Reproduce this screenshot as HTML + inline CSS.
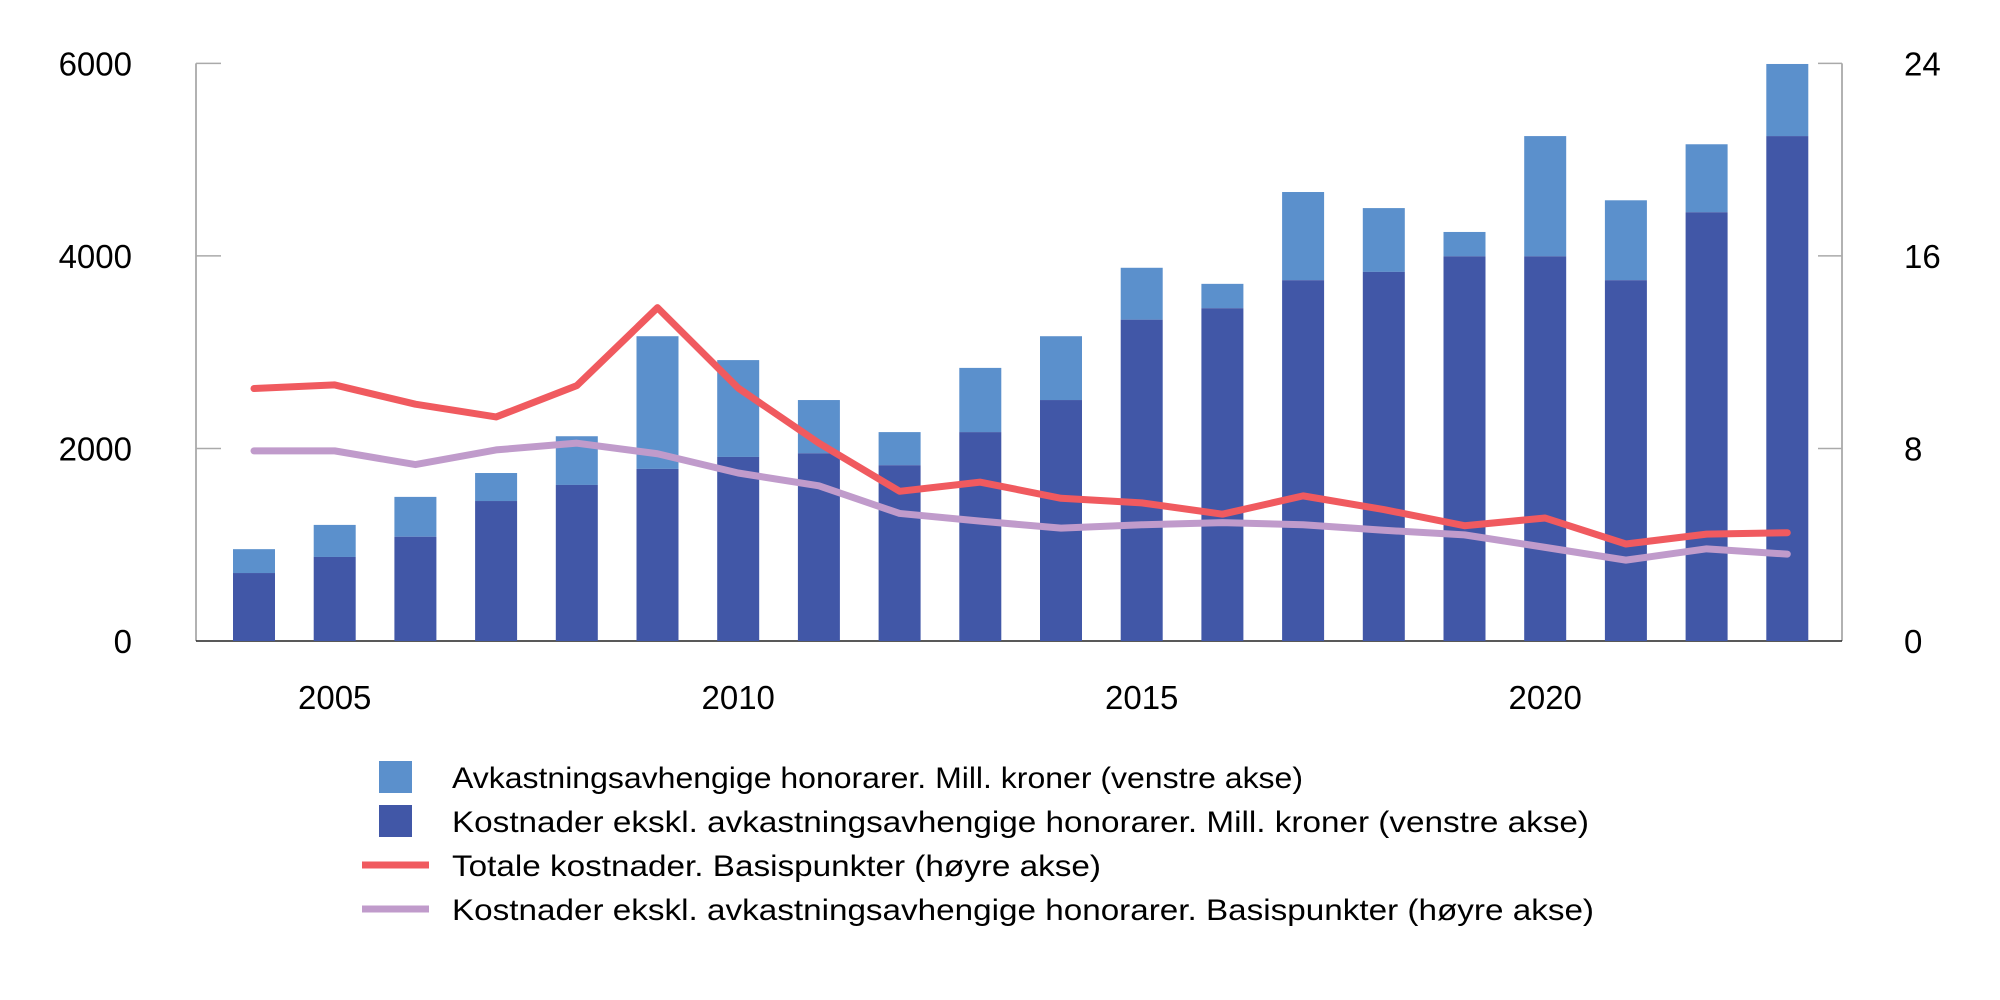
<!DOCTYPE html>
<html><head><meta charset="utf-8"><style>
html,body{margin:0;padding:0;background:#fff;}
svg{display:block;font-family:"Liberation Sans",Arial,sans-serif;}
</style></head><body>
<svg id="chart" width="2000" height="1000" viewBox="0 0 2000 1000">
<g id="axes"></g>
<g id="bars"></g>
<g id="lines"></g>
<g id="legend">
  <rect x="379" y="761" width="33" height="32" fill="#5b90cc"/>
  <text x="452" y="788" font-size="30" textLength="851" lengthAdjust="spacingAndGlyphs">Avkastningsavhengige honorarer. Mill. kroner (venstre akse)</text>
  <rect x="379" y="805" width="33" height="32" fill="#4157a7"/>
  <text x="452" y="832" font-size="30" textLength="1137" lengthAdjust="spacingAndGlyphs">Kostnader ekskl. avkastningsavhengige honorarer. Mill. kroner (venstre akse)</text>
  <line x1="362" y1="865" x2="429" y2="865" stroke="#f05a5f" stroke-width="7"/>
  <text x="452" y="876" font-size="30" textLength="649" lengthAdjust="spacingAndGlyphs">Totale kostnader. Basispunkter (høyre akse)</text>
  <line x1="362" y1="909" x2="429" y2="909" stroke="#c09bcb" stroke-width="7"/>
  <text x="452" y="920" font-size="30" textLength="1142" lengthAdjust="spacingAndGlyphs">Kostnader ekskl. avkastningsavhengige honorarer. Basispunkter (høyre akse)</text>
</g>
</svg>
<script>
const years = [2004,2005,2006,2007,2008,2009,2010,2011,2012,2013,2014,2015,2016,2017,2018,2019,2020,2021,2022,2023];
const costsExcl = [706,873,1083,1454,1621,1788,1912,1950,1826,2170,2503,3338,3457,3748,3834,3996,3996,3748,4454,5245];
const totalCosts = [954,1206,1497,1745,2127,3166,2918,2503,2170,2837,3166,3877,3710,4664,4497,4249,5245,4578,5160,5994];
const totalBp = [10.49,10.64,9.84,9.31,10.61,13.85,10.51,8.22,6.22,6.60,5.93,5.74,5.27,6.03,5.46,4.79,5.11,4.03,4.44,4.50];
const exclBp = [7.90,7.90,7.33,7.94,8.22,7.78,6.98,6.45,5.30,4.98,4.69,4.83,4.92,4.83,4.60,4.41,3.89,3.36,3.83,3.61];
const leftTicks = [0,2000,4000,6000];
const rightTicks = [0,8,16,24];
const yearLabels = [2005,2010,2015,2020];

const NS = "http://www.w3.org/2000/svg";
const X0 = 196, X1 = 1842, Y0 = 641, Y1 = 63.4;
const firstC = 254, stepC = 80.7, barW = 42;
const xC = y => firstC + (y - years[0]) * stepC;
const yL = v => Y0 - (v / 6000) * (Y0 - Y1);
const yR = v => Y0 - (v / 24) * (Y0 - Y1);
function mk(tag, attrs, parent){ const e=document.createElementNS(NS,tag); for(const k in attrs) e.setAttribute(k,attrs[k]); parent.appendChild(e); return e; }

const axes = document.getElementById('axes');
let e = mk('line',{x1:X0,y1:Y1,x2:X0,y2:Y0,stroke:'#888','stroke-width':1.3},axes);


e = mk('line',{x1:X1,y1:Y1,x2:X1,y2:Y0,stroke:'#888','stroke-width':1.3},axes);


leftTicks.forEach(t=>{
  const y = yL(t);
  if (t>0){ const l = mk('line',{x1:X0,y1:y,x2:X0+25,y2:y,stroke:'#aaa','stroke-width':1.5},axes);
    
     }
  const tx = mk('text',{x:132,y:y+12,'font-size':33,'text-anchor':'end'},axes);
  tx.textContent = t;
  
  
});
rightTicks.forEach(t=>{
  const y = yR(t);
  if (t>0){ const l = mk('line',{x1:X1-24,y1:y,x2:X1,y2:y,stroke:'#aaa','stroke-width':1.5},axes);
    
     }
  const tx = mk('text',{x:1904,y:y+12,'font-size':33},axes);
  tx.textContent = t;
  
  
});
yearLabels.forEach(yr=>{
  const tx = mk('text',{x:xC(yr),y:709,'font-size':33,'text-anchor':'middle'},axes);
  tx.textContent = yr;
  
  
});

const bars = document.getElementById('bars');
years.forEach((yr,i)=>{
  const cx = xC(yr);
  const r1 = mk('rect',{x:cx-barW/2,y:yL(totalCosts[i]),width:barW,height:yL(costsExcl[i])-yL(totalCosts[i]),fill:'#5b90cc'},bars);
  
  
  const r2 = mk('rect',{x:cx-barW/2,y:yL(costsExcl[i]),width:barW,height:Y0-yL(costsExcl[i]),fill:'#4157a7'},bars);
  
  
});
e = mk('line',{x1:X0,y1:Y0,x2:X1,y2:Y0,stroke:'#222','stroke-width':1.5},axes);



const lines = document.getElementById('lines');
const p2 = mk('polyline',{points:years.map((yr,i)=>xC(yr)+','+yR(exclBp[i])).join(' '),fill:'none',stroke:'#c09bcb','stroke-width':7,'stroke-linejoin':'round','stroke-linecap':'round'},lines);


const p1 = mk('polyline',{points:years.map((yr,i)=>xC(yr)+','+yR(totalBp[i])).join(' '),fill:'none',stroke:'#f05a5f','stroke-width':7,'stroke-linejoin':'round','stroke-linecap':'round'},lines);


</script>
</body></html>
